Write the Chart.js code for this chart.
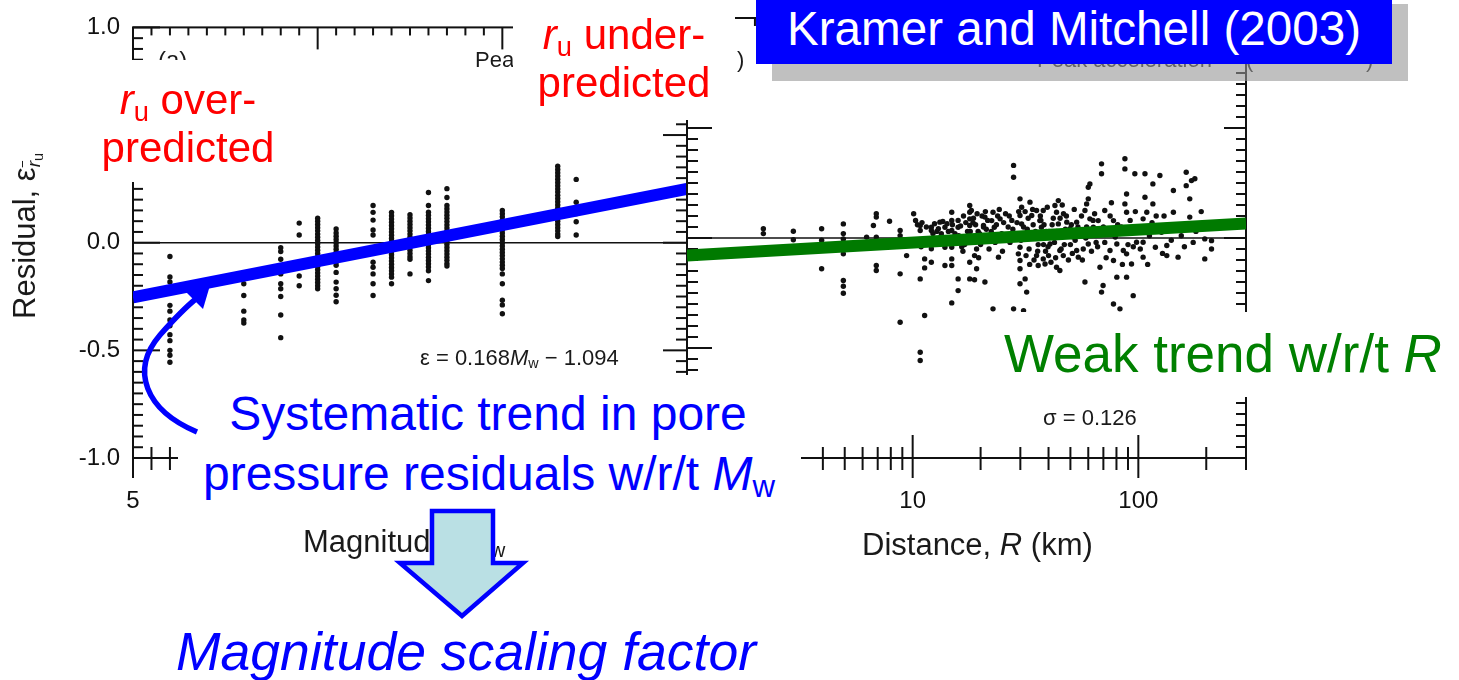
<!DOCTYPE html>
<html>
<head>
<meta charset="utf-8">
<script src="https://cdn.jsdelivr.net/npm/chart.js@4.4.1/dist/chart.umd.min.js"></script>
<style>
  html, body { margin: 0; padding: 0; background: #fff; }
  #stage { position: relative; width: 1459px; height: 680px; overflow: hidden; background: #fff;
           font-family: "Liberation Sans", Arial, Helvetica, sans-serif; }
  canvas { position: absolute; top: 0; }
  .t { position: absolute; white-space: nowrap; line-height: 1; color: #1a1a1a; }
  .cover { position: absolute; background: #fff; }
  .sb { font-size: .65em; position: relative; top: .24em; }
  .red { color: #ff0000; font-size: 42px; text-align: center; }
  .blue { color: #0000ff; }
</style>
</head>
<body>
<div id="stage">
  <canvas id="cMw" width="700" height="680" style="left:0px"></canvas>
  <canvas id="cR" width="859" height="680" style="left:600px"></canvas>

  <!-- axis titles and panel texts of the scanned figure -->
  <div class="t" style="left:9px;top:319px;font-size:31px;transform-origin:0 0;transform:rotate(-90deg)">Residual, ε<span style="font-size:.62em;position:relative;top:.28em"><i style="text-decoration:overline">r</i><span style="font-size:.75em;position:relative;top:.2em">u</span></span></div>
  <div class="t" style="left:303px;top:526px;font-size:31px">Magnitude, <i>M</i><span class="sb">w</span></div>
  <div class="t" style="left:862px;top:529px;font-size:31px">Distance, <i>R</i> (km)</div>
  <div class="t" style="left:420px;top:347px;font-size:22px">ε = 0.168<i>M</i><span class="sb">w</span> − 1.094</div>
  <div class="t" style="left:1043px;top:407px;font-size:22px">σ = 0.126</div>
  <div class="t" style="left:158px;top:48px;font-size:24px">(a)</div>
  <div style="position:absolute;left:475px;top:40px;width:38px;height:40px;overflow:hidden">
    <div class="t" style="left:0;top:9px;font-size:22px">Peak acceleration</div>
  </div>
  <div class="t" style="left:737px;top:49px;font-size:22px">)</div>
  <div class="t" style="left:1037px;top:49px;font-size:22px">Peak acceleration</div>
  <div class="t" style="left:1246px;top:49px;font-size:22px">(</div>
  <div class="t" style="left:1366px;top:49px;font-size:22px">)</div>

  <!-- slide callouts -->
  <div class="cover" style="left:60px;top:60px;width:240px;height:122px"></div>
  <div class="cover" style="left:513px;top:0px;width:222px;height:120px"></div>
  <div class="cover" style="left:178px;top:375px;width:623px;height:137px"></div>
  <div class="cover" style="left:985px;top:312px;width:474px;height:85px"></div>

  <div class="t red" style="left:38px;top:79px;width:300px"><i>r</i><span class="sb">u</span> over-</div>
  <div class="t red" style="left:38px;top:127px;width:300px">predicted</div>
  <div class="t red" style="left:474px;top:14px;width:300px"><i>r</i><span class="sb">u</span> under-</div>
  <div class="t red" style="left:474px;top:62px;width:300px">predicted</div>

  <div class="t blue" style="left:188px;top:390px;width:600px;font-size:48px;text-align:center">Systematic trend in pore</div>
  <div class="t blue" style="left:189px;top:450px;width:600px;font-size:48px;text-align:center">pressure residuals w/r/t <i>M</i><span class="sb">w</span></div>
  <div class="t" style="left:1004px;top:327px;font-size:53px;color:#008000">Weak trend w/r/t <i>R</i></div>
  <div class="t blue" style="left:166px;top:625px;width:600px;font-size:53.5px;text-align:center;font-style:italic">Magnitude scaling factor</div>

  <div style="position:absolute;left:772px;top:4px;width:636px;height:77px;background:rgba(150,150,150,0.6)"></div>
  <div style="position:absolute;left:756px;top:0px;width:636px;height:64px;background:#0000ff"></div>
  <div class="t" style="left:787px;top:5px;font-size:47.6px;color:#fff">Kramer and Mitchell (2003)</div>

  <svg width="1459" height="680" style="position:absolute;left:0;top:0">
    <path d="M197,432 C145,410 130,370 160,335 C175,318 187,306 197,298" fill="none" stroke="#0000ff" stroke-width="5.5"/>
    <polygon points="211,282 186,292 203,309" fill="#0000ff"/>
    <polygon points="432,511 493,511 493,563 523,563 462,616 400,563 432,563" fill="#bae0e4" stroke="#0000ff" stroke-width="4.5" stroke-linejoin="miter"/>
  </svg>
</div>

<script>
// ---- residuals vs. magnitude (columns of events at each Mw) ----
const MW_COLUMNS = [5.2, 5.6, 5.8, 5.9, 6.0, 6.1, 6.3, 6.4, 6.5, 6.6, 6.7, 7.0, 7.3, 7.4];
const RESIDUALS_BY_MW = [
  [-0.064, -0.159, -0.182, -0.291, -0.318, -0.359, -0.386, -0.427, -0.455, -0.5, -0.523, -0.555],
  [-0.191, -0.245, -0.318, -0.359, -0.373],
  [-0.023, -0.041, -0.077, -0.114, -0.145, -0.191, -0.214, -0.25, -0.336, -0.441],
  [0.091, 0.036, -0.114, -0.155, -0.2],
  [0.114, 0.1, 0.085, 0.07, 0.055, 0.04, 0.025, 0.01, -0.005, -0.02, -0.035, -0.05, -0.065, -0.08, -0.095, -0.11, -0.125, -0.14, -0.155, -0.17, -0.185, -0.2, -0.214],
  [0.064, 0.045, 0.03, 0.015, 0.0, -0.015, -0.03, -0.045, -0.06, -0.075, -0.09, -0.105, -0.138, -0.183, -0.214, -0.244, -0.274],
  [0.173, 0.141, 0.105, 0.059, 0.036, -0.091, -0.114, -0.145, -0.191, -0.245],
  [0.141, 0.125, 0.11, 0.095, 0.08, 0.065, 0.05, 0.035, 0.02, 0.005, -0.01, -0.025, -0.04, -0.055, -0.07, -0.085, -0.1, -0.115, -0.13, -0.145, -0.16, -0.191],
  [0.13, 0.115, 0.1, 0.085, 0.07, 0.055, 0.04, 0.025, 0.01, -0.005, -0.02, -0.035, -0.05, -0.065, -0.077, -0.145],
  [0.233, 0.173, 0.142, 0.127, 0.112, 0.097, 0.082, 0.067, 0.052, 0.037, 0.022, 0.007, -0.008, -0.023, -0.038, -0.053, -0.068, -0.083, -0.098, -0.113, -0.13, -0.176],
  [0.251, 0.21, 0.173, 0.158, 0.143, 0.128, 0.113, 0.098, 0.083, 0.068, 0.053, 0.038, 0.023, 0.008, -0.007, -0.022, -0.037, -0.052, -0.067, -0.082, -0.097, -0.108],
  [0.15, 0.135, 0.12, 0.105, 0.09, 0.075, 0.06, 0.045, 0.03, 0.015, 0.0, -0.015, -0.03, -0.045, -0.06, -0.075, -0.09, -0.105, -0.12, -0.145, -0.191, -0.267, -0.289, -0.33],
  [0.355, 0.34, 0.325, 0.31, 0.295, 0.28, 0.265, 0.25, 0.235, 0.22, 0.205, 0.19, 0.175, 0.16, 0.145, 0.13, 0.115, 0.1, 0.085, 0.07, 0.055, 0.04, 0.029],
  [0.294, 0.188, 0.135, 0.097, 0.036]
];
// fitted trend: eps = 0.168 Mw - 1.094
const MW_FIT_SLOPE = 0.168;
const MW_FIT_INTERCEPT = -1.094;
const MW_FIT_RANGE = [5, 8];

// ---- residuals vs. distance: [R (km), residual] ----
const DISTANCE_RESIDUALS = [
  [2.18,0.042],[2.18,0.02],[2.96,0.031],[2.96,-0.008],
  [3.95,0.042],[3.95,-0.01],[3.95,-0.14],
  [4.93,0.064],[4.93,0.02],[4.93,-0.004],[4.93,-0.072],[4.93,-0.193],[4.93,-0.219],[4.93,-0.251],
  [6.25,0.004],[6.7,0.057],[6.9,0.11],[6.9,0.095],[6.9,0.004],[6.9,-0.125],[6.9,-0.148],
  [7.9,0.076],[8.8,0.034],[8.8,0.011],[8.8,-0.163],[8.8,-0.383],[9.4,-0.08],
  [10.1,0.11],[10.3,0.08],[10.5,0.06],[10.8,0.057],[10.8,0.034],[10.9,-0.04],[10.8,-0.186],[10.8,-0.519],[10.8,-0.557],
  [11,0.07],[11.3,-0.095],[11.3,-0.136],[11.3,-0.352],[11.5,0.05],
  [12.1,0.049],[12.1,0.034],[12.3,0.02],[12.1,-0.049],[12.1,-0.11],[12.5,0.065],[12.8,0.03],
  [13.2,0.072],[13.0,0.042],[13.4,0.019],[13.2,0.0],[13.6,0.075],[13.9,0.049],[13.9,-0.042],[13.9,-0.125],
  [14.2,0.065],[14.4,0.03],[14.9,0.117],[14.9,0.08],[14.9,0.034],[14.9,-0.019],[14.9,-0.042],[14.9,-0.095],[14.9,-0.125],[14.9,-0.295],[15,0.06],[15.4,0.02],
  [15.9,0.08],[15.9,0.049],[15.9,-0.186],[15.9,-0.239],[16.3,0.055],[16.5,-0.04],[16.8,0.1],[17,-0.03],[17.2,0.07],[17.5,0.03],
  [17.9,0.148],[17.9,0.117],[17.9,0.087],[17.9,0.057],[17.9,-0.11],[17.9,-0.186],
  [18.2,0.125],[18.6,0.09],[19,0.06],[19.5,0.03],[18.5,0.0],[20,-0.03],[19.2,-0.05],[20.3,0.1],[20.6,0.05],
  [20.9,0.095],[20.6,0.057],[18.8,-0.08],[19.2,-0.14],[20.9,-0.2],[18.8,-0.19],
  [22.7,0.117],[22.4,0.079],[23,0.049],[24.4,0.087],[24,-0.087],[22.7,-0.322],
  [28,0.33],[28,0.276],[28,-0.322],
  [29.9,0.178],[30.4,0.14],[29.9,0.102],[30.4,0.064],[28.9,0.019],[29.9,-0.042],[29.4,-0.072],[29.9,-0.102],[29.9,-0.14],[29.9,-0.208],
  [31,-0.33],[32,-0.246],[31.5,-0.186],[33.1,0.163],[33.7,0.102],
  [35.4,0.125],[36.6,0.079],[37.9,0.125],[37.2,0.049],[35.4,-0.08],[37.9,-0.095],[36,-0.125],[38.6,-0.118],[40,-0.08],[40.6,-0.027],[41.3,0.019],
  [42.7,0.148],[44.2,0.17],[43.4,0.117],[44.2,0.064],[44.9,-0.057],[43.4,-0.133],[44.9,-0.148],[46.6,0.11],[48.2,0.072],[49.8,0.042],[51.5,0.004],
  [53.3,0.072],[53.3,-0.057],[54.2,-0.087],[58,0.125],[59,0.155],[60,0.231],[61,0.246],[60,0.178],[61,0.087],[58,-0.2],[60,-0.027],
  [63.2,0.049],[66.4,0.079],[67.6,-0.133],[68.7,0.337],[68.7,0.292],[71,0.125],[74.9,-0.057],[69.8,-0.216],[68.7,-0.246],
  [77.6,0.079],[79,0.004],[80.3,-0.027],[77.6,-0.102],[80.3,-0.178],[77.6,-0.3],[82.9,-0.322],
  [87.2,0.36],[87.2,0.314],[88.7,0.2],[87.2,0.155],[88.7,0.117],[88.7,0.034],[85.8,-0.057],[88.7,-0.072],[88.7,-0.178],
  [93.3,-0.118],[94.9,-0.262],[96.5,0.292],[98.2,-0.019],
  [105,0.087],[107,0.292],[107,0.185],[105,-0.019],[109,0.117],[105,-0.087],[116,0.246],[116,0.155],[114,0.042],[119,-0.042],
  [124.6,0.284],[126.7,0.026],[133.7,-0.034],[133.7,-0.08],[143,0.216],[143,0.117],[150,-0.087],
  [163,0.299],[163,0.238],[169,0.178],[172,0.261],[178,0.269],[169,0.095],[197,-0.004],[197,-0.095],[211,-0.012],[211,-0.05],
  [18.5,0.07],[19.3,0.11],[19.8,0.02],[20.5,-0.01],[21.2,0.04],[21.5,0.08],[22,0.0],[22.3,0.03],[23.5,0.06],[23.8,0.1],
  [24.8,0.02],[25.3,0.07],[25.8,0.11],[26.5,0.05],[27,-0.02],[27.5,0.08],
  [30.8,0.0],[31.5,0.12],[32.2,0.04],[32.8,-0.05],[33.5,0.01],[34,0.13],[34.5,-0.1],[35,0.03],[36,-0.03],[36.8,0.1],
  [37.5,0.0],[38.2,0.06],[38.8,-0.06],[39.5,0.14],[40.2,0.03],[41,-0.11],[42,0.09],[42.5,-0.02],[43,-0.09],[44,0.02],
  [45.5,-0.05],[46,0.15],[47,-0.03],[48,0.1],[49,-0.1],[50.5,0.06],[51,-0.07],[52,0.13],[55,0.02],[56,0.1],[57,-0.05],
  [59,0.05],[62,-0.06],[64,0.11],[65,-0.02],[70,0.05],[72,-0.09],[73,0.02],[76,0.16],[84,0.05],[85,-0.12],
  [92,0.08],[95,-0.04],[100,0.03],[110,-0.12],[112,0.01],[120,0.1],[128,-0.07],[138,0.04],[155,0.01],[175,-0.02],
  [16,0.01],[16.7,-0.06],[18,0.03],[18.3,-0.02],[19.6,-0.09],[21,0.12],[21.8,-0.05],[23.2,-0.02],[24.2,0.13],[25,-0.06],
  [26,0.0],[26.8,0.1],[27.8,0.04],[29,0.07],[29.5,0.12],[30.2,-0.01],[31,0.05],[31.8,-0.08],[32.5,0.09],[33,-0.12],
  [34.2,0.06],[35.8,-0.06],[36.3,0.02],[37,0.08],[38,-0.03],[39,0.03],[39.8,-0.04],[41.5,0.06],[43.5,0.03],[45,0.09],
  [46.5,-0.08],[47.5,0.04],[50,-0.03],[52.5,-0.01],[54,0.05],[56.5,-0.1],[58.5,0.0],[63,0.08],[66,-0.04],[68,0.03],
  [71,-0.02],[75,0.1],[81,0.06],[90,-0.03],[97,0.12],[102,-0.05],[115,0.07],[130,0.1],[140,-0.01],[160,-0.04],[180,0.03],[190,0.12]
];
// straight trend in log-distance, end values
const R_FIT_KM = [1, 300];
const R_FIT_RESIDUAL = [-0.08, 0.066];

// ---- axis labels ----
const MW_LABELS = [5, 6, 7, 8];
const R_LABELS = [1, 10, 100];
const RESIDUAL_LABELS = [-1, -0.5, 0, 0.5, 1];

const INK = '#111111';
const FONT = '"Liberation Sans", Arial, Helvetica, sans-serif';

// minor tick values for the scanned-style frame
const residualTicks = [];
for (let i = -20; i <= 20; i++) residualTicks.push(+(i * 0.05).toFixed(2));
const mwTicks = [];
for (let i = 50; i <= 80; i++) mwTicks.push(i / 10);
const distanceTicks = [];
[1, 10, 100].forEach(d => { for (let k = 1; k <= 9; k++) if (d * k <= 300) distanceTicks.push(d * k); });

function frameAndTicks(spec) {
  return {
    id: spec.id,
    beforeDatasetsDraw(chart) {
      const { ctx, chartArea: a } = chart;
      const xs = chart.scales.x, ys = chart.scales.y;
      const seg = (x1, y1, x2, y2) => { ctx.beginPath(); ctx.moveTo(x1, y1); ctx.lineTo(x2, y2); ctx.stroke(); };
      ctx.save();
      ctx.strokeStyle = INK;
      ctx.lineCap = 'butt';
      ctx.lineWidth = 1.6;
      const z = ys.getPixelForValue(0);
      seg(a.left, z, a.right, z);
      ctx.lineWidth = 2;
      ctx.strokeRect(a.left, a.top, a.right - a.left, a.bottom - a.top);
      residualTicks.forEach(v => {
        const p = ys.getPixelForValue(v);
        const major = Math.abs(v * 2 - Math.round(v * 2)) < 1e-6;
        seg(a.left, p, a.left + (major ? spec.leftMajor : spec.leftMinor), p);
        seg(a.right - (major ? spec.rightMajor : spec.rightMinor), p, a.right, p);
      });
      spec.xTicks.forEach(v => {
        const p = xs.getPixelForValue(v);
        const major = spec.isMajorX(v);
        seg(p, a.top, p, a.top + (major ? 22 : 8));
        seg(p, a.bottom - (major ? 23 : 11), p, a.bottom + (major ? 20 : 12));
      });
      ctx.restore();
    }
  };
}

const baseOptions = (xScale, yScale, padding) => ({
  responsive: false, animation: false, devicePixelRatio: 1, events: [],
  layout: { padding },
  plugins: { legend: { display: false }, tooltip: { enabled: false } },
  scales: { x: xScale, y: yScale }
});

// bottom tick labels sit 29px below the axis; the gap comes from an undrawn tick length
const bottomAxis = (extra) => Object.assign({
  position: 'bottom',
  ticks: { font: { family: FONT, size: 24 }, color: INK, padding: 0, maxRotation: 0, autoSkip: false,
           callback: v => String(v) },
  grid: { display: false, drawTicks: true, tickLength: 29 }, border: { display: false },
  afterFit: s => { s.height = 222; }
}, extra);

// ---- left panel: residual vs magnitude ----
const mwPoints = MW_COLUMNS.flatMap((m, i) => RESIDUALS_BY_MW[i].map(e => ({ x: m, y: e })));
const mwFit = MW_FIT_RANGE.map(m => ({ x: m, y: MW_FIT_SLOPE * m + MW_FIT_INTERCEPT }));

new Chart(document.getElementById('cMw'), {
  type: 'scatter',
  data: { datasets: [
    { type: 'line', data: mwFit, borderColor: '#0000ff', borderWidth: 12, borderCapStyle: 'butt',
      pointRadius: 0, showLine: true, order: 0 },
    { data: mwPoints, pointRadius: 2.7, pointBackgroundColor: INK, pointBorderWidth: 0, order: 1 }
  ]},
  options: baseOptions(
    bottomAxis({ type: 'linear', min: 5, max: 8,
      afterBuildTicks: s => { s.ticks = MW_LABELS.map(v => ({ value: v })); } }),
    { type: 'linear', min: -1, max: 1, position: 'left',
      afterBuildTicks: s => { s.ticks = RESIDUAL_LABELS.map(v => ({ value: v })); },
      ticks: { font: { family: FONT, size: 24 }, color: INK, padding: 13, autoSkip: false,
               callback: v => Number(v).toFixed(1) },
      grid: { display: false, drawTicks: false }, border: { display: false },
      afterFit: s => { s.width = 133; } },
    { top: 18, right: 13, left: 0, bottom: 0 }
  ),
  plugins: [frameAndTicks({ id: 'frameMw', xTicks: mwTicks, isMajorX: v => Number.isInteger(v),
                            leftMinor: 10, leftMajor: 27, rightMinor: 11, rightMajor: 24 })]
});

// ---- right panel: residual vs distance ----
const rPoints = DISTANCE_RESIDUALS.map(([r, e]) => ({ x: r, y: e }));
const rFit = R_FIT_KM.map((r, i) => ({ x: r, y: R_FIT_RESIDUAL[i] }));

new Chart(document.getElementById('cR'), {
  type: 'scatter',
  data: { datasets: [
    { type: 'line', data: rFit, borderColor: '#007a00', borderWidth: 12, borderCapStyle: 'butt',
      pointRadius: 0, showLine: true, order: 0 },
    { data: rPoints, pointRadius: 2.7, pointBackgroundColor: INK, pointBorderWidth: 0, order: 1 }
  ]},
  options: baseOptions(
    bottomAxis({ type: 'logarithmic', min: 1, max: 300,
      afterBuildTicks: s => { s.ticks = R_LABELS.map(v => ({ value: v })); } }),
    { type: 'linear', min: -1, max: 1, position: 'right',
      ticks: { display: false },
      grid: { display: false, drawTicks: false }, border: { display: false },
      afterFit: s => { s.width = 213; } },
    { top: 18, right: 0, left: 87, bottom: 0 }
  ),
  plugins: [frameAndTicks({ id: 'frameR', xTicks: distanceTicks, isMajorX: v => v === 10 || v === 100,
                            leftMinor: 11, leftMajor: 25, rightMinor: 10, rightMajor: 22 })]
});
</script>
</body>
</html>
